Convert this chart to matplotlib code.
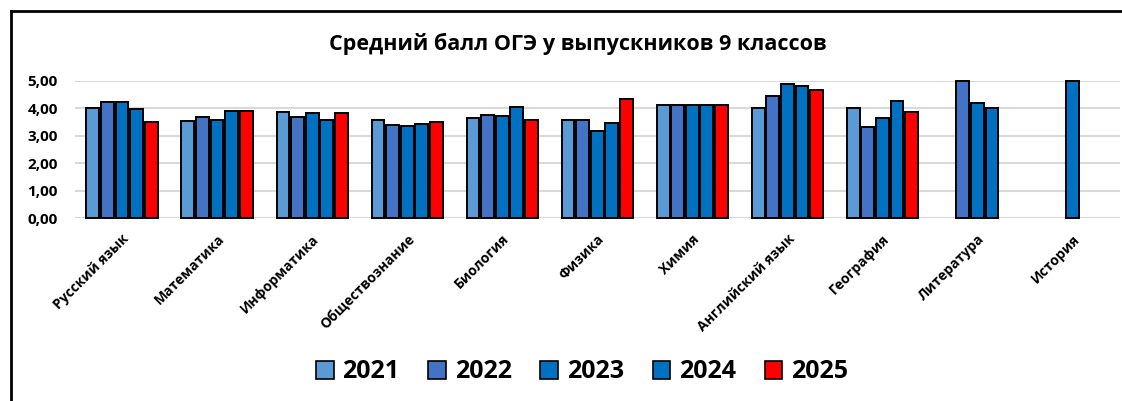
import matplotlib
matplotlib.use("Agg")
import matplotlib.pyplot as plt
import numpy as np
from matplotlib.lines import Line2D
from matplotlib.patches import Patch

plt.rcParams["font.family"] = ["Open Sans", "DejaVu Sans"]

subjects = ["Русский язык", "Математика", "Информатика", "Обществознание",
            "Биология", "Физика", "Химия", "Английский язык", "География",
            "Литература", "История"]
years = ["2021", "2022", "2023", "2024", "2025"]
nan = np.nan
score_2021 = [4.00, 3.53, 3.87, 3.57, 3.64, 3.57, 4.10, 4.00, 4.00, nan, nan]
score_2022 = [4.24, 3.67, 3.67, 3.37, 3.74, 3.57, 4.10, 4.44, 3.30, 5.00, nan]
score_2023 = [4.24, 3.57, 3.81, 3.36, 3.70, 3.18, 4.10, 4.87, 3.64, 4.20, 5.00]
score_2024 = [3.97, 3.90, 3.57, 3.41, 4.03, 3.45, 4.10, 4.81, 4.27, 4.00, nan]
score_2025 = [3.51, 3.90, 3.81, 3.48, 3.57, 4.33, 4.10, 4.67, 3.87, nan, nan]
series = [score_2021, score_2022, score_2023, score_2024, score_2025]
colors = ["#5B9BD5", "#4472C4", "#0070C0", "#0070C0", "#FF0000"]

fig = plt.figure(figsize=(11.22, 4.01), dpi=100)
ax = fig.add_axes([74.5 / 1122, 1 - 218 / 401, (1120 - 74.5) / 1122, (218 - 80.7) / 401])

x = np.arange(len(subjects))
slot = 0.1535
for i, (vals, c) in enumerate(zip(series, colors)):
    ax.bar(x + (i - 2) * slot, vals, width=0.135, color=c, edgecolor="black",
           linewidth=1.4, zorder=3, clip_on=False)

ax.set_xlim(-0.5, len(subjects) - 0.5)
ax.set_ylim(0, 5)
ax.set_yticks(np.arange(0, 5.01, 1))
ax.set_yticklabels([f"{v:.2f}".replace(".", ",") for v in np.arange(0, 5.01, 1)],
                   fontsize=11, fontweight="bold")
ax.yaxis.grid(True, color="#D9D9D9", lw=1.5, zorder=0)
ax.tick_params(axis="both", length=0)
ax.tick_params(axis="y", pad=12)
ax.set_xticks(x)
ax.set_xticklabels(subjects, rotation=45, ha="right", rotation_mode="anchor",
                   fontsize=10, fontweight="bold")
ax.tick_params(axis="x", pad=10)
for s in ax.spines.values():
    s.set_visible(False)

fig.text(578 / 1122, 1 - 44 / 401, "Средний балл ОГЭ у выпускников 9 классов",
         ha="center", va="center", fontsize=15.5, fontweight="bold")

handles = [Patch(facecolor=c, edgecolor="black", linewidth=1.2) for c in colors]
fig.legend(handles, years, loc="center", bbox_to_anchor=(582 / 1122, 1 - 372 / 401),
           ncol=5, frameon=False, prop={"size": 18, "weight": "bold"},
           handlelength=0.7, handleheight=0.7, handletextpad=0.35, columnspacing=1.15)

# outer frame (top and left only visible)
fig.add_artist(Line2D([11 / 1122, 1], [1 - 11 / 401, 1 - 11 / 401], color="black", lw=2))
fig.add_artist(Line2D([11 / 1122, 11 / 1122], [0, 1 - 11 / 401], color="black", lw=2))

fig.savefig("out.png", dpi=100)
